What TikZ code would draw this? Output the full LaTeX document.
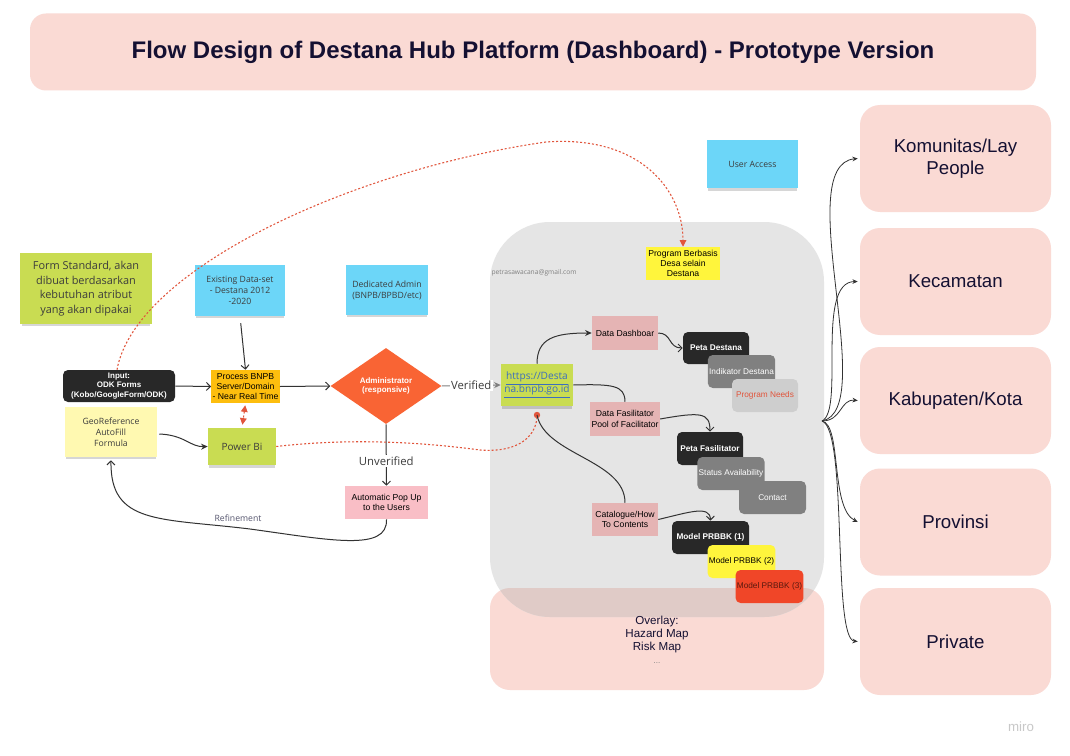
\documentclass[tikz,border=0pt]{standalone}
\usepackage{fontspec}
\setmainfont{Liberation Sans}
\newfontfamily\osans{Open Sans}
\usetikzlibrary{arrows.meta,shapes.geometric,shadows}
\newdimen\pxu \pxu=0.75pt
\definecolor{pinkbg}{RGB}{250,218,212}
\definecolor{panelgray}{RGB}{229,229,229}
\definecolor{overlapc}{RGB}{224,203,199}
\definecolor{stgreen}{RGB}{201,220,82}
\definecolor{stblue}{RGB}{108,214,248}
\definecolor{stpale}{RGB}{255,249,177}
\definecolor{orangep}{RGB}{253,190,14}
\definecolor{diamondc}{RGB}{249,100,52}
\definecolor{mauve}{RGB}{229,180,180}
\definecolor{popup}{RGB}{249,190,198}
\definecolor{darkbox}{RGB}{40,40,40}
\definecolor{midgray}{RGB}{128,128,128}
\definecolor{lightgraybox}{RGB}{206,206,206}
\definecolor{yel}{RGB}{255,245,60}
\definecolor{redbox}{RGB}{240,70,40}
\definecolor{navy}{RGB}{20,16,50}
\definecolor{reddot}{RGB}{225,85,60}
\definecolor{urlblue}{RGB}{60,110,190}
\definecolor{linec}{RGB}{50,50,50}
\definecolor{txtgray}{RGB}{60,60,60}
\tikzset{
  box/.style={rectangle, inner sep=1pt, align=center, text=black},
  sz/.style 2 args={minimum width=#1\pxu, minimum height=#2\pxu},
  sticky/.style={box, drop shadow={shadow xshift=0pt, shadow yshift=-2.5pt, shadow scale=0.97, opacity=0.16, fill=black}},
  smalltxt/.style={font=\fontsize{6.5}{7.8}\selectfont},
  stickytxt/.style={font=\osans\fontsize{6.5}{8.2}\selectfont, text=txtgray},
  rbox/.style={box, fill=pinkbg, rounded corners=20\pxu, sz={191}{107}, text=navy, font=\fontsize{14}{16.5}\selectfont},
  darkrb/.style={box, fill=darkbox, rounded corners=5\pxu, text=white, font=\bfseries\fontsize{6.2}{7.4}\selectfont},
  grayrb/.style={box, fill=midgray, rounded corners=5\pxu, text=white, font=\fontsize{6.2}{7.4}\selectfont},
  conn/.style={draw=linec, line width=0.75pt},
  barb/.style={conn, -{Straight Barb[length=3pt,width=6pt]}},
  stl/.style={conn, -{Stealth[length=5pt,width=4.5pt]}},
  reddash/.style={draw=reddot, dash pattern=on 1.5pt off 1.5pt, line width=0.8pt},
  redtip/.style={reddash, -{Triangle[length=5pt,width=5pt]}},
  fan/.style={draw=linec, line width=0.6pt, -{Stealth[length=4pt,width=3.5pt]}}
}
\begin{document}
\begin{tikzpicture}[x=0.75pt,y=-0.75pt]
\useasboundingbox (0,0) rectangle (1070,756);
\fill[white] (0,0) rectangle (1070,756);

% title
\node[box, fill=pinkbg, rounded corners=16\pxu, sz={1006}{77}, text=navy,
  font=\bfseries\fontsize{18}{21}\selectfont] (title) at (533,52)
  {Flow Design of Destana Hub Platform (Dashboard) - Prototype Version};

% overlay + panel
\node[box, fill=pinkbg, rounded corners=20\pxu, sz={334}{102}] (overlaybox) at (657,639) {};
\node[box, fill=panelgray, rounded corners=60\pxu, sz={334}{395}] (panel) at (657,419.5) {};
\begin{scope}
  \clip[rounded corners=20\pxu] (490,588) rectangle (824,690);
  \fill[overlapc, rounded corners=60\pxu] (490,222) rectangle (824,617);
\end{scope}
\node[box, text=navy, font=\fontsize{8.7}{9.8}\selectfont] (overlaytext) at (657,640)
  {Overlay:\\Hazard Map\\Risk Map\\{\color{gray}\fontsize{6}{7}\selectfont ...}};

% right boxes
\node[rbox] (kom) at (955.5,158.5) {Komunitas/Lay\\People};
\node[rbox] (kec) at (955.5,281.5) {Kecamatan};
\node[rbox] (kab) at (955.5,400.5) {Kabupaten/Kota};
\node[rbox] (prov) at (955.5,522) {Provinsi};
\node[rbox] (priv) at (955.5,641.5) {Private};

% sticky notes
\node[sticky, fill=stblue, sz={91}{48}, stickytxt] (user) at (752.5,164) {User Access};
\node[sticky, fill=stgreen, sz={132}{71}, font=\osans\fontsize{8.2}{11}\selectfont, text=txtgray] (form) at (86,288.5)
  {Form Standard, akan\\dibuat berdasarkan\\kebutuhan atribut\\yang akan dipakai};
\node[sticky, fill=stblue, sz={90}{51}, stickytxt] (exist) at (240,290.5) {Existing Data-set\\- Destana 2012\\-2020};
\node[sticky, fill=stblue, sz={82}{50}, stickytxt] (dadmin) at (387,290) {Dedicated Admin\\(BNPB/BPBD/etc)};
\node[sticky, fill=stpale, sz={92}{50}, stickytxt] (geo) at (111,432) {GeoReference\\AutoFill\\Formula};
\node[sticky, fill=stgreen, sz={68}{37}, font=\osans\fontsize{7.5}{9}\selectfont, text=txtgray] (pbi) at (242,446.5) {Power Bi};
\node[sticky, fill=stgreen, sz={72}{42}, font=\osans\fontsize{7.6}{10}\selectfont, text=urlblue] (url) at (537,385)
  {\underline{https://Desta}\\\underline{na.bnpb.go.id}};

% other boxes
\node[box, fill=yel, sz={74}{33}, smalltxt] (prog) at (683,263.5) {Program Berbasis\\Desa selain\\Destana};
\node[box, text=gray, font=\osans\fontsize{5}{6}\selectfont, anchor=west] (email) at (490,273) {petrasawacana@gmail.com};
\node[darkrb, sz={112}{32}, font=\bfseries\fontsize{6}{7}\selectfont] (input) at (119,386) {Input:\\ODK Forms\\(Kobo/GoogleForm/ODK)};
\node[box, fill=orangep, sz={67}{33}, smalltxt] (proc) at (245.5,386.5) {Process BNPB\\Server/Domain\\- Near Real Time};
\node[diamond, fill=diamondc, aspect=1.46, inner sep=0pt, sz={111}{76}, text=white, align=center,
  font=\bfseries\fontsize{6}{7.2}\selectfont] (adm) at (386,386) {Administrator\\(responsive)};
\node[box, fill=popup, sz={83}{33}, smalltxt] (auto) at (386.5,502.5) {Automatic Pop Up\\to the Users};
\node[box, fill=mauve, sz={66}{34}, smalltxt] (dash) at (625,333) {Data Dashboar};
\node[box, fill=mauve, sz={66}{34}, smalltxt] (fas) at (625,419) {Data Fasilitator\\Pool of Facilitator};
\node[box, fill=mauve, sz={66}{33}, smalltxt] (cat) at (625,519.5) {Catalogue/How\\To Contents};

\node[darkrb, sz={66}{32}] (peta) at (716,348) {Peta Destana};
\node[grayrb, sz={67}{33}] (ind) at (741.5,371.5) {Indikator Destana};
\node[box, fill=lightgraybox, rounded corners=5\pxu, sz={66}{33}, text=reddot, font=\fontsize{6.2}{7.4}\selectfont] (need) at (765,395.5) {Program Needs};
\node[darkrb, sz={66}{33}] (pfas) at (710,448.5) {Peta Fasilitator};
\node[grayrb, sz={66}{33}] (stat) at (731,473.5) {Status Availability};
\node[grayrb, sz={67}{33}] (cont) at (772.5,497.5) {Contact};
\node[darkrb, sz={77}{33}] (m1) at (710.5,537.5) {Model PRBBK (1)};
\node[box, fill=yel, rounded corners=5\pxu, sz={67}{33}, font=\fontsize{6.2}{7.4}\selectfont] (m2) at (741.5,561.5) {Model PRBBK (2)};
\node[box, fill=redbox, rounded corners=5\pxu, sz={67}{33}, text={rgb,255:red,90;green,25;blue,15}, font=\fontsize{6.2}{7.4}\selectfont] (m3) at (769.5,586.5) {Model PRBBK (3)};

% labels
\node[font=\osans\fontsize{6.5}{8}\selectfont, text={rgb,255:red,85;green,85;blue,110}] (refl) at (238,518) {Refinement};
\node[font=\fontsize{10}{12}\selectfont, text={rgb,255:red,200;green,200;blue,200}] (miro) at (1021,727) {miro};

% connectors main flow
\draw[barb, shorten <=7\pxu] (exist.south) -- (proc.north);
\draw[barb] (input.east) -- (proc.west);
\draw[barb] (proc.east) -- (adm.west);
\draw[conn, -{Stealth[length=5pt,width=4.5pt]}, draw=gray] (adm.east) -- node[fill=white, inner sep=1pt, font=\osans\fontsize{8.5}{10}\selectfont, text=txtgray] (verl) {Verified} (url.west);
\draw[barb] (adm.south) -- node[pos=0.6, fill=white, inner sep=1pt, font=\osans\fontsize{8.5}{10}\selectfont, text=txtgray] (unvl) {Unverified} (auto.north);
\draw[reddash, {Triangle[length=5pt,width=5pt]}-{Triangle[length=5pt,width=5pt]}, shorten <=2\pxu, shorten >=3\pxu] (proc.south) -- (pbi.north);
\draw[stl] (geo.east) ++(2,2) .. controls (185,435) and (190,447) .. (pbi.west);
\draw[barb] (auto.south) .. controls (388,552) and (330,540) .. (250,529) .. controls (160,518) and (110,525) .. ([yshift=-3\pxu]geo.south);

% red dotted
\coordinate (rdot) at (537,415);
\draw[reddash] (pbi.east) .. controls (350,438) and (420,442) .. (480,450) .. controls (520,453) and (537,435) .. (rdot);
\fill[reddot] (rdot) circle (3.2\pxu);
\draw[redtip] (input.north) ++(-2,0) coordinate (inTop) (inTop) .. controls (135,270) and (350,170) .. (546,142) .. controls (640,135) and (683,190) .. (prog.north);

% panel connectors
\draw[stl, draw=linec] (url.north) .. controls (537,338) and (555,333) .. (dash.west);
\draw[conn] (url.east) .. controls (612,384) and (625,385) .. (fas.north);
\draw[conn] (rdot) .. controls (545,455) and (625,460) .. (cat.north);
\draw[barb] (dash.east) .. controls (672,333) and (668,348) .. (peta.west);
\draw[barb] (fas.east) .. controls (700,412) and (710,412) .. (pfas.north);
\draw[barb] (cat.east) .. controls (690,512) and (710,505) .. (m1.north);

% fan
\coordinate (hub) at (822,421);
\draw[fan] (hub) .. controls (880,410) and (790,165) .. ([xshift=-2\pxu]kom.west);
\draw[fan] (hub) .. controls (845,410) and (815,282) .. ([xshift=-2\pxu]kec.west);
\draw[fan] (hub) .. controls (842,421) and (840,399) .. ([xshift=-2\pxu]kab.west);
\draw[fan] (hub) .. controls (842,425) and (830,508) .. ([xshift=-2\pxu]prov.west);
\draw[fan] (hub) .. controls (848,430) and (832,639) .. ([xshift=-2\pxu]priv.west);
\end{tikzpicture}
\end{document}
